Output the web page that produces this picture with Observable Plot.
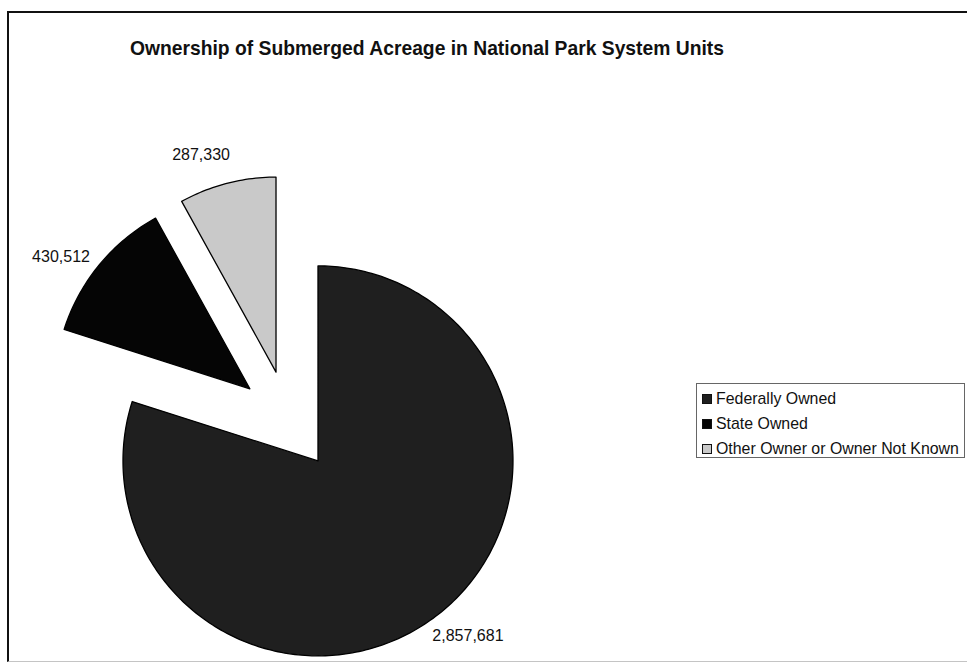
<!DOCTYPE html>
<html>
<head>
<meta charset="utf-8">
<script src="https://cdn.jsdelivr.net/npm/d3@7"></script>
<script src="https://cdn.jsdelivr.net/npm/@observablehq/plot@0.6"></script>
<style>
  html, body { margin: 0; padding: 0; background: #fff; overflow: hidden; }
  #page { position: relative; width: 967px; height: 665px; background: #fff; font-family: "Liberation Sans", Arial, sans-serif; }
  #frame { position: absolute; left: 7px; top: 11px; width: 980px; height: 648px; border-top: 2px solid #111; border-left: 2px solid #111; border-bottom: 1px solid #c4c4c4; }
  #title { position: absolute; left: 130px; top: 38px; font-size: 19.3px; font-weight: bold; color: #111; white-space: nowrap; }
  #chart { position: absolute; left: 0; top: 0; }
  #legend { position: absolute; left: 696px; top: 383px; width: 269px; height: 75px; border: 1px solid #666; box-sizing: border-box; padding-top: 2px; }
  .row { height: 25px; display: flex; align-items: center; font-size: 15.9px; color: #111; white-space: nowrap; }
  .sw { width: 10px; height: 10px; margin-left: 5px; margin-right: 4px; border: 1px solid #111; box-sizing: border-box; }
</style>
</head>
<body>
<div id="page">
  <div id="frame"></div>
  <div id="chart"></div>
  <div id="title"></div>
  <div id="legend"></div>
</div>
<script>
// ---- data ----
const chartTitle = "Ownership of Submerged Acreage in National Park System Units";
const categories = ["Federally Owned", "State Owned", "Other Owner or Owner Not Known"];
const acres = [2857681, 430512, 287330];
const colors = ["#1f1f1f", "#050505", "#c9c9c9"];

// ---- layout constants ----
const W = 967, H = 665;
const CX = 288, CY = 420, R = 195, EXPLODE = 50;
const LABEL_DIST = 280, LABEL_TURN = -0.065;

const arcs = d3.pie().sort(null).value(d => d)(acres);

// polygon points of every exploded slice
const slicePts = [];
const labels = [];
arcs.forEach((a, i) => {
  const mid = (a.startAngle + a.endAngle) / 2;
  const ox = CX + EXPLODE * Math.sin(mid);
  const oy = CY - EXPLODE * Math.cos(mid);
  const cat = categories[i];
  slicePts.push({cat, x: ox, y: oy});
  const n = Math.max(8, Math.ceil((a.endAngle - a.startAngle) / (2 * Math.PI) * 360));
  for (let k = 0; k <= n; k++) {
    const t = a.startAngle + (a.endAngle - a.startAngle) * k / n;
    slicePts.push({cat, x: ox + R * Math.sin(t), y: oy - R * Math.cos(t)});
  }
  slicePts.push({cat, x: ox, y: oy});
  const la = mid + LABEL_TURN;
  labels.push({cat, value: a.data, x: CX + LABEL_DIST * Math.sin(la), y: CY - LABEL_DIST * Math.cos(la)});
});

const plot = Plot.plot({
  width: W,
  height: H,
  margin: 0,
  x: {domain: [0, W], range: [0, W], axis: null},
  y: {domain: [0, H], range: [0, H], axis: null},
  color: {domain: categories, range: colors},
  style: {background: "transparent", fontFamily: "Liberation Sans, Arial, sans-serif"},
  marks: [
    Plot.line(slicePts, {x: "x", y: "y", z: "cat", fill: "cat", stroke: "#000", strokeWidth: 1.3, curve: "linear"}),
    Plot.text(labels, {x: "x", y: "y", text: d => d3.format(",")(d.value), fontSize: 16, fill: "#111"})
  ]
});
document.getElementById("chart").appendChild(plot);
document.getElementById("title").textContent = chartTitle;

const legend = document.getElementById("legend");
categories.forEach((c, i) => {
  const row = document.createElement("div");
  row.className = "row";
  const sw = document.createElement("div");
  sw.className = "sw";
  sw.style.background = colors[i];
  const tx = document.createElement("span");
  tx.textContent = c;
  row.appendChild(sw);
  row.appendChild(tx);
  legend.appendChild(row);
});
</script>
</body>
</html>
